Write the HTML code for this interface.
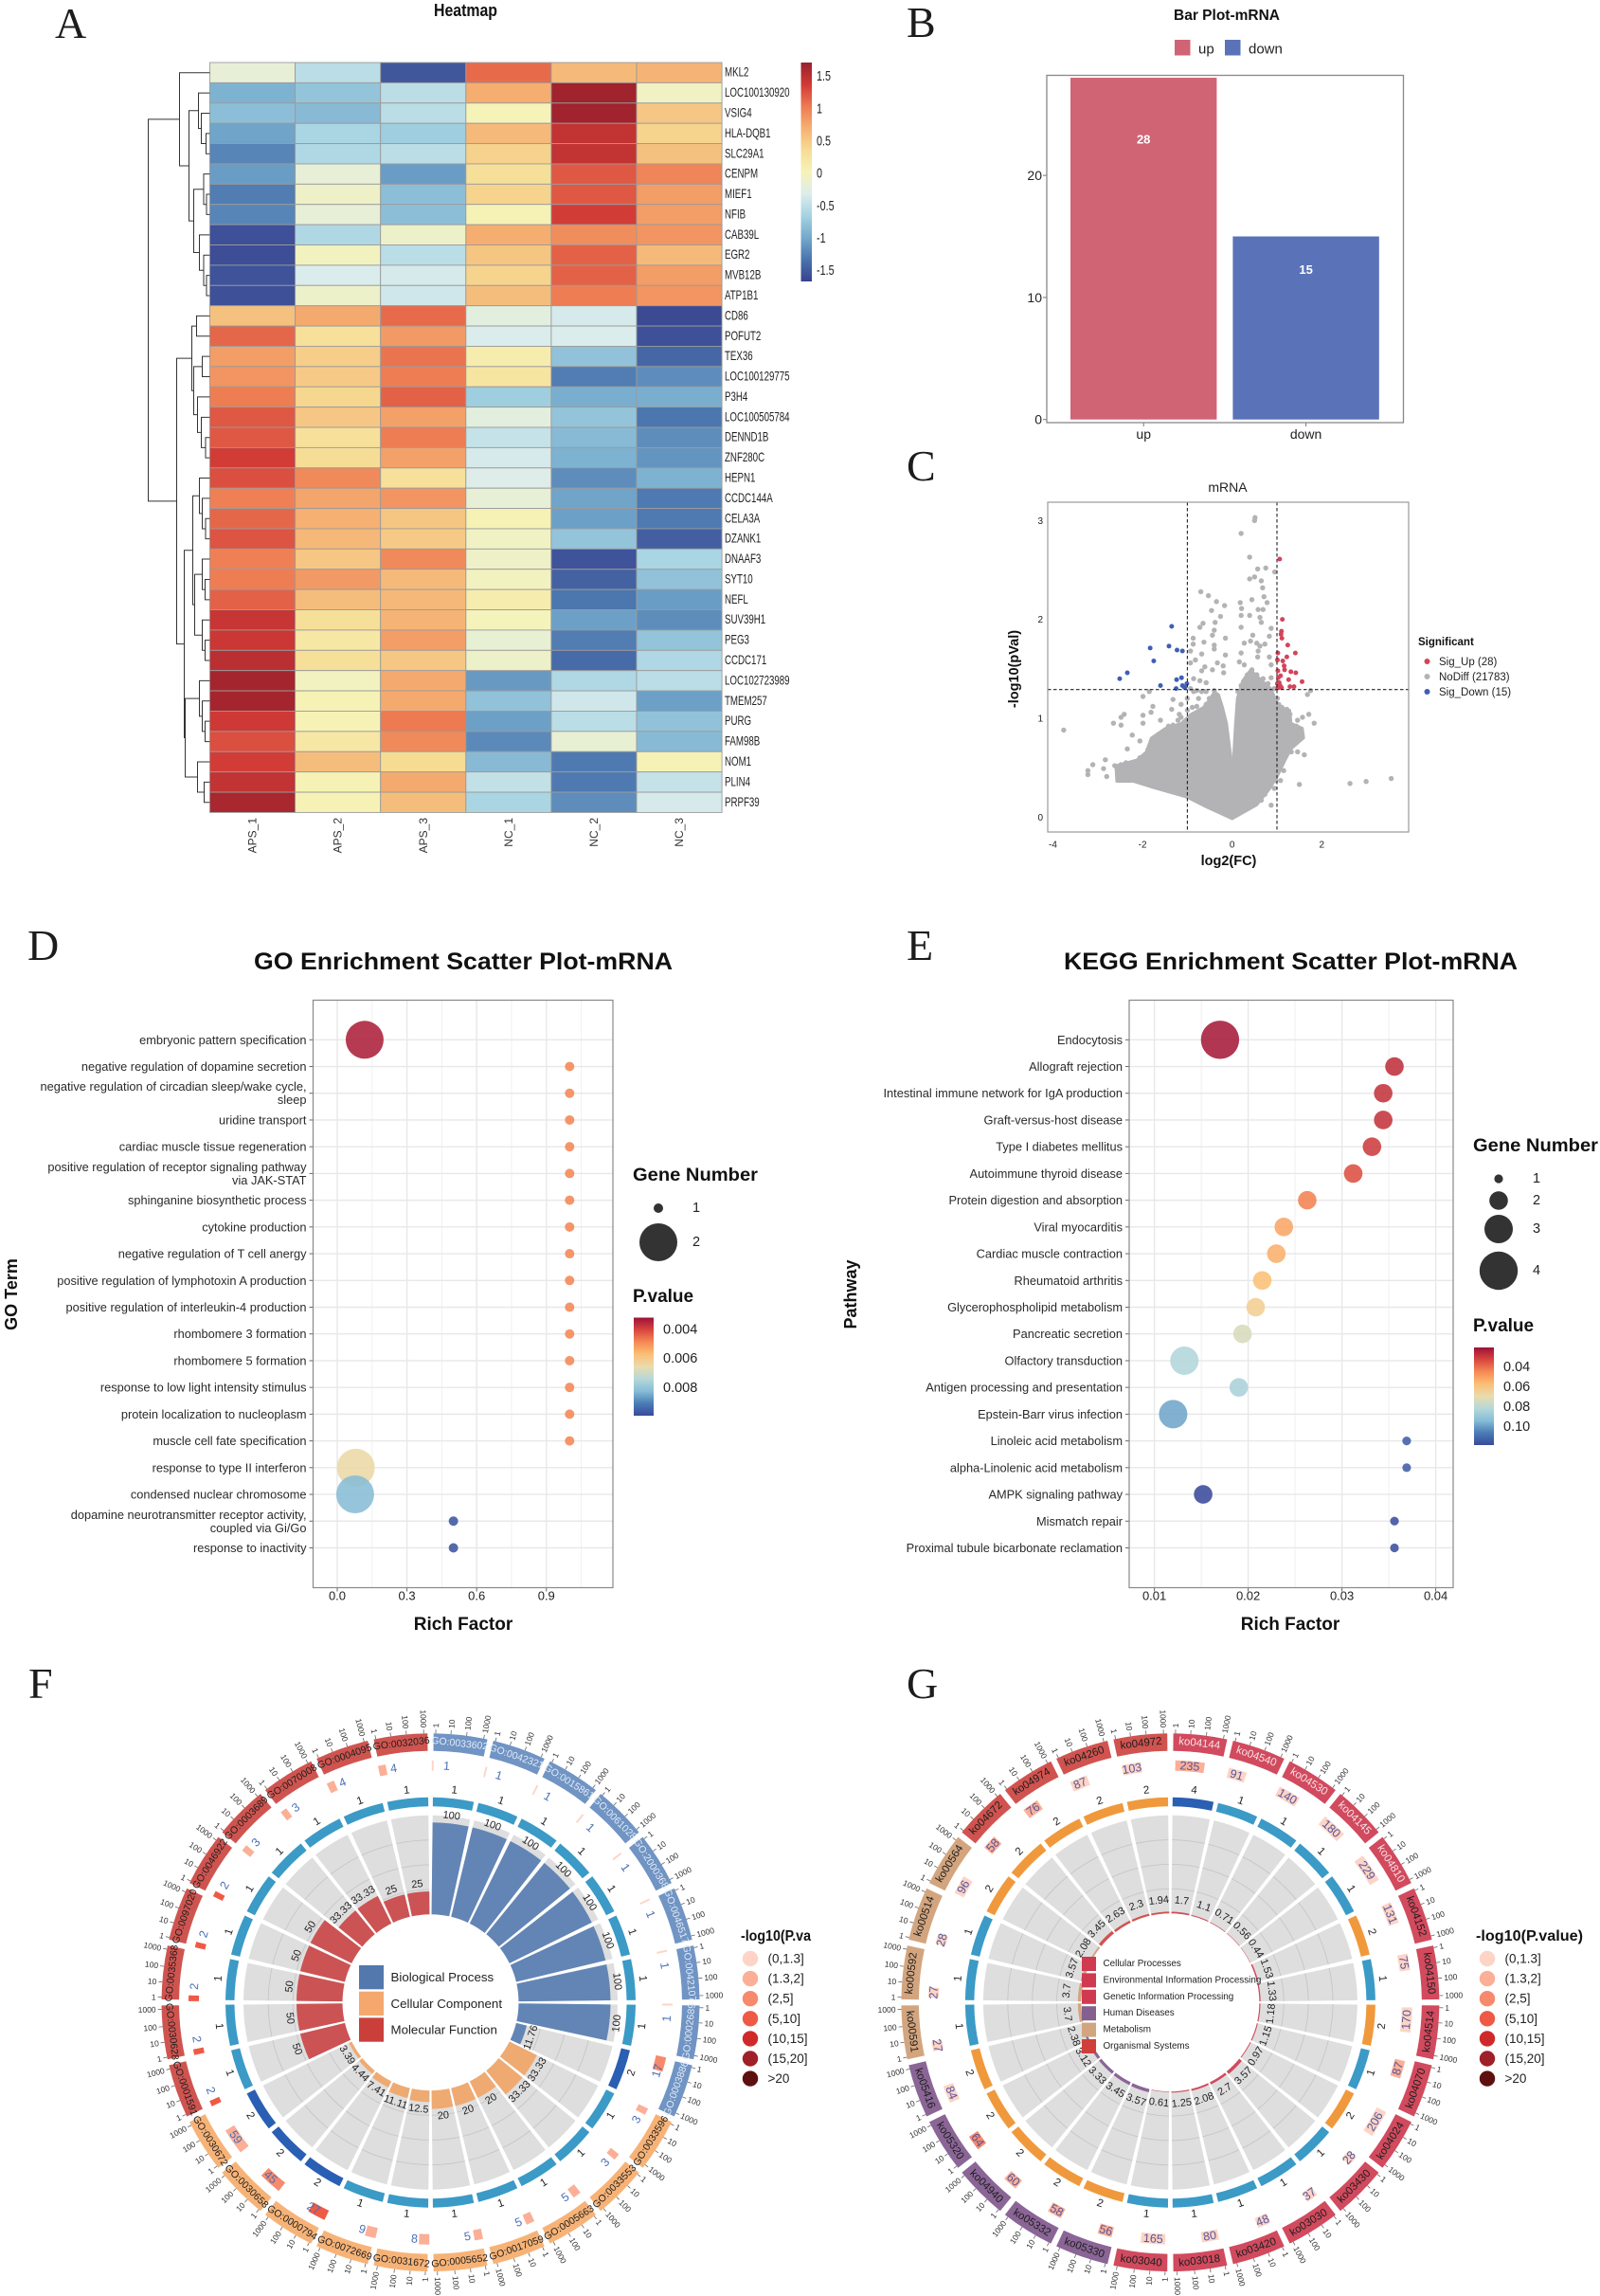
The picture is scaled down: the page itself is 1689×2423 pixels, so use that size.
<!DOCTYPE html>
<html lang="en">
<head>
<meta charset="utf-8">
<title>Transcriptome figure panels A-G</title>
<style>
html,body{margin:0;padding:0;background:#fff;}
#figure{display:block;width:1689px;height:2423px;font-family:"Liberation Sans",sans-serif;fill:#222;filter:blur(0.35px);}
.letter{font-family:"Liberation Serif",serif;font-size:46px;fill:#1c1c1c;}
.ttl{font-weight:bold;fill:#111;}
</style>
</head>
<body>
<svg id="figure" xmlns="http://www.w3.org/2000/svg" width="1689" height="2423" viewBox="0 0 1689 2423">
  <rect x="0" y="0" width="1689" height="2423" fill="#fff"/>
  <text class="letter" x="58" y="40">A</text>
  <text class="letter" x="957" y="39">B</text>
  <text class="letter" x="957" y="507">C</text>
  <text class="letter" x="29" y="1013">D</text>
  <text class="letter" x="957" y="1013">E</text>
  <text class="letter" x="30" y="1792">F</text>
  <text class="letter" x="957" y="1792">G</text>

  <g id="panel-a">
    <text class="ttl" x="458" y="17" font-size="18" textLength="67" lengthAdjust="spacingAndGlyphs">Heatmap</text>
  </g>
  <g id="panel-b">
    <text class="ttl" x="1295" y="21" font-size="15.5" text-anchor="middle">Bar Plot-mRNA</text>
    <rect x="1240" y="42" width="16.5" height="16.5" fill="#d06475"/>
    <text x="1265" y="56.5" font-size="15">up</text>
    <rect x="1293" y="42" width="16.5" height="16.5" fill="#5a72b8"/>
    <text x="1318" y="56.5" font-size="15">down</text>
  </g>
  <g id="panel-c">
    <text x="1296" y="519" font-size="14" text-anchor="middle">mRNA</text>
    <text class="ttl" x="1297" y="913" font-size="14.5" text-anchor="middle">log2(FC)</text>
    <text class="ttl" x="1075" y="706" font-size="14.5" text-anchor="middle" transform="rotate(-90 1075 706)">-log10(pVal)</text>
    <text class="ttl" x="1497" y="681" font-size="11.5">Significant</text>
    <circle cx="1506.5" cy="698" r="3" fill="#d2455a"/>
    <text x="1519" y="702" font-size="11.5">Sig_Up (28)</text>
    <circle cx="1506.5" cy="714" r="3" fill="#b3b3b5"/>
    <text x="1519" y="718" font-size="11.5">NoDiff (21783)</text>
    <circle cx="1506.5" cy="730" r="3" fill="#3f5fb5"/>
    <text x="1519" y="734" font-size="11.5">Sig_Down (15)</text>
  </g>
  <g id="panel-d">
    <text class="ttl" x="268" y="1023" font-size="25" textLength="442" lengthAdjust="spacingAndGlyphs">GO Enrichment Scatter Plot-mRNA</text>
    <text class="ttl" x="489" y="1720" font-size="19" text-anchor="middle">Rich Factor</text>
    <text class="ttl" x="18" y="1366" font-size="18" text-anchor="middle" transform="rotate(-90 18 1366)">GO Term</text>
    <text class="ttl" x="668" y="1246" font-size="19" textLength="132" lengthAdjust="spacingAndGlyphs">Gene Number</text>
    <text class="ttl" x="668" y="1374" font-size="19">P.value</text>
  </g>
  <g id="panel-e">
    <text class="ttl" x="1123" y="1023" font-size="25" textLength="479" lengthAdjust="spacingAndGlyphs">KEGG Enrichment Scatter Plot-mRNA</text>
    <text class="ttl" x="1362" y="1720" font-size="19" text-anchor="middle">Rich Factor</text>
    <text class="ttl" x="904" y="1366" font-size="18" text-anchor="middle" transform="rotate(-90 904 1366)">Pathway</text>
    <text class="ttl" x="1555" y="1215" font-size="19" textLength="132" lengthAdjust="spacingAndGlyphs">Gene Number</text>
    <text class="ttl" x="1555" y="1405" font-size="19">P.value</text>
  </g>
  <g id="panel-f">
    <text class="ttl" x="782" y="2048" font-size="15.5" textLength="74" lengthAdjust="spacingAndGlyphs">-log10(P.va</text>
  </g>
  <g id="panel-g">
    <text class="ttl" x="1558" y="2048" font-size="15.5" textLength="113" lengthAdjust="spacingAndGlyphs">-log10(P.value)</text>
  </g>
</svg>

<script>
/* shared drawing helpers */
const SVG_NS = 'http://www.w3.org/2000/svg';
function mk(parent, tag, attrs, txt) {
  const e = document.createElementNS(SVG_NS, tag);
  for (const k in attrs) e.setAttribute(k, attrs[k]);
  if (txt !== undefined) e.textContent = txt;
  parent.appendChild(e);
  return e;
}
function lab(parent, x, y, str, opts, name) {
  const e = mk(parent, 'text', Object.assign({x: x, y: y, 'dominant-baseline': 'central'}, opts), str);
  
  
  return e;
}
function mixHex(a, b, f) {
  const pa = [1, 3, 5].map(i => parseInt(a.substr(i, 2), 16));
  const pb = [1, 3, 5].map(i => parseInt(b.substr(i, 2), 16));
  return 'rgb(' + pa.map((v, i) => Math.round(v + (pb[i] - v) * f)).join(',') + ')';
}
function rampColor(stops, t) {
  const c = Math.max(0, Math.min(1, t)) * (stops.length - 1);
  const i = Math.min(stops.length - 2, Math.floor(c));
  return mixHex(stops[i], stops[i + 1], c - i);
}
function addGradient(id, stops) {
  const svg = document.getElementById('figure');
  let defs = svg.querySelector('defs');
  if (!defs) defs = mk(svg, 'defs', {});
  const g = mk(defs, 'linearGradient', {id: id, x1: 0, y1: 1, x2: 0, y2: 0});
  stops.forEach((c, i) => mk(g, 'stop', {offset: i / (stops.length - 1), 'stop-color': c}));
}
</script>

<script>
/* Panel A: heatmap */
const heatCols = ['APS_1','APS_2','APS_3','NC_1','NC_2','NC_3'];
const heatRows = ['MKL2','LOC100130920','VSIG4','HLA-DQB1','SLC29A1','CENPM','MIEF1','NFIB','CAB39L','EGR2','MVB12B','ATP1B1','CD86','POFUT2','TEX36','LOC100129775','P3H4','LOC100505784','DENND1B','ZNF280C','HEPN1','CCDC144A','CELA3A','DZANK1','DNAAF3','SYT10','NEFL','SUV39H1','PEG3','CCDC171','LOC102723989','TMEM257','PURG','FAM98B','NOM1','PLIN4','PRPF39'];
const heatValues = [
[-0.2,-0.55,-1.55,1.1,0.6,0.65],[-0.95,-0.8,-0.55,0.7,1.65,-0.08],[-0.85,-0.88,-0.55,0.0,1.65,0.5],[-1.05,-0.65,-0.72,0.6,1.45,0.4],
[-1.25,-0.62,-0.55,0.42,1.45,0.55],[-1.1,-0.2,-1.1,0.3,1.2,0.95],[-1.3,-0.1,-0.85,0.4,1.2,0.8],[-1.25,-0.2,-0.85,0.02,1.35,0.8],
[-1.6,-0.62,-0.12,0.7,0.9,0.85],[-1.62,-0.05,-0.55,0.52,1.15,0.6],[-1.58,-0.35,-0.38,0.4,1.15,0.8],[-1.6,-0.12,-0.42,0.58,1.0,0.85],
[0.55,0.72,1.1,-0.25,-0.38,-1.65],[1.12,0.28,0.82,-0.35,-0.35,-1.6],[0.8,0.45,1.05,0.1,-0.82,-1.45],[0.85,0.48,1.0,0.22,-1.3,-1.2],
[1.0,0.38,1.15,-0.72,-0.98,-0.98],[1.2,0.5,0.78,-0.25,-0.8,-1.35],[1.2,0.28,1.0,-0.48,-0.88,-1.2],[1.35,0.32,0.78,-0.38,-0.95,-1.15],
[1.25,0.92,0.28,-0.32,-1.2,-0.95],[0.98,0.75,0.85,-0.2,-1.05,-1.32],[1.12,0.68,0.52,0.02,-1.08,-1.32],[1.22,0.62,0.48,-0.08,-0.8,-1.5],
[0.98,0.5,0.92,-0.1,-1.58,-0.65],[1.0,0.82,0.6,-0.05,-1.48,-0.82],[1.15,0.58,0.62,0.1,-1.35,-1.1],[1.42,0.3,0.65,-0.02,-1.08,-1.2],
[1.4,0.18,0.8,-0.18,-1.3,-0.8],[1.5,0.3,0.5,-0.12,-1.42,-0.62],[1.62,-0.05,0.72,-1.12,-0.62,-0.55],[1.62,0.02,0.72,-0.82,-0.42,-1.08],
[1.38,0.02,1.02,-1.08,-0.55,-0.82],[1.25,0.18,0.92,-1.22,-0.18,-0.88],[1.35,0.58,0.35,-0.88,-1.32,0.02],[1.45,0.02,0.72,-0.5,-1.32,-0.48],[1.6,0.02,0.58,-0.65,-1.2,-0.38]
];
const heatLegendTicks = [1.5,1,0.5,0,-0.5,-1,-1.5];
/* dendrogram merges: [height, childA, childB], leaves are row indices */
const heatTree = [65,
  [32, 0, [22, [12, 1, [9, 2, [4, 3, 4]]], [17, [6.5, 5, [3.5, 6, 7]], [11, 8, [6.5, 9, [3.5, 10, 11]]]]]],
  [35,
    [19, [14, 12, 13], [17, [8, 14, 15], [13, 16, [9, 17, [4.5, 18, 19]]]]],
    [27,
      [18, [11, 20, [8, 21, [4.5, 22, 23]]], [16, [8, 24, [5, 25, 26]], [8, 27, [5, 28, 29]]]],
      [26, [11, 30, [8, 31, [5, 32, 33]]], [13, 34, [6, 35, 36]]]
    ]
  ]
];
(function () {
  const g = document.getElementById('panel-a');
  const left = 221.5, top = 66, cw = 90.1, rh = 21.39;
  const stops = ['#39418f','#4a74ad','#74a9cc','#a5d3e2','#dcedec','#f6f3b8','#f6dc94','#f5b072','#ee7a52','#d13a36','#981f2c'];
  const vMin = -1.7, vMax = 1.7;
  const colX = i => left + cw * i;
  const rowY = i => top + rh * i;
  const valColor = v => rampColor(stops, (v - vMin) / (vMax - vMin));
  heatValues.forEach((row, r) => row.forEach((v, c) => {
    const cell = mk(g, 'rect', {x: colX(c), y: rowY(r), width: cw, height: rh, fill: valColor(v), stroke: '#9b9b9b', 'stroke-width': 0.9});
    
    
  }));
  heatRows.forEach((name, r) => {
    const y = rowY(r) + rh / 2;
    const t = mk(g, 'text', {'dominant-baseline': 'central', 'font-size': 13.5, transform: 'translate(765 ' + y + ') scale(0.72 1)'}, name);
    
    
  });
  heatCols.forEach((name, c) => {
    const x = colX(c) + cw / 2;
    const t = mk(g, 'text', {'dominant-baseline': 'central', 'font-size': 12, 'text-anchor': 'end', transform: 'translate(' + x + ' 863) rotate(-90)', fill: '#333'}, name);
    
    
  });
  /* dendrogram */
  const hx = h => left - h;
  function drawNode(n) {
    if (typeof n === 'number') return {x: left, y: rowY(n) + rh / 2};
    const a = drawNode(n[1]), b = drawNode(n[2]);
    const x = hx(n[0]);
    const p = mk(g, 'path', {d: 'M' + a.x + ' ' + a.y + 'H' + x + 'V' + b.y + 'H' + b.x, fill: 'none', stroke: '#333', 'stroke-width': 1});
    
    
    return {x: x, y: (a.y + b.y) / 2};
  }
  drawNode(heatTree);
  /* colour bar */
  addGradient('heat-grad', stops);
  const bar = mk(g, 'rect', {x: 845.5, y: 66, width: 11.5, height: 231, fill: 'url(#heat-grad)'});
  
  
  const legendY = v => 182.5 - v * 68.3;
  heatLegendTicks.forEach(v => {
    const t = mk(g, 'text', {'dominant-baseline': 'central', 'font-size': 15, transform: 'translate(862 ' + legendY(v) + ') scale(0.72 1)'}, String(v));
    
    
  });
})();
</script>

<script>
/* Panel B: bar plot */
const barCategories = ['up','down'];
const barValues = [28,15];
const barTicks = [0,10,20];
(function () {
  const g = document.getElementById('panel-b');
  const y0 = 442.7, perUnit = 12.88;
  const yS = v => y0 - v * perUnit;
  const bandX = i => 1130 + i * 171.4;
  const bandW = 154.4;
  const colors = ['#d06475','#5a72b8'];
  barValues.forEach((v, i) => {
    const r = mk(g, 'rect', {x: bandX(i), y: yS(v), width: bandW, height: y0 - yS(v), fill: colors[i]});
    
    
    lab(g, bandX(i) + bandW / 2, yS(v * 0.82), String(v), {'font-size': 13, 'font-weight': 'bold', fill: '#fff', 'text-anchor': 'middle'}, 'bar-value-label');
    lab(g, bandX(i) + bandW / 2, 458, barCategories[i], {'font-size': 14, 'text-anchor': 'middle'}, 'bar-x-tick-label');
    const tk = mk(g, 'line', {x1: bandX(i) + bandW / 2, x2: bandX(i) + bandW / 2, y1: 446, y2: 450, stroke: '#777'});
    
    
  });
  barTicks.forEach(v => {
    lab(g, 1100, yS(v), String(v), {'font-size': 14, 'text-anchor': 'end'}, 'bar-y-tick-label');
    const tk = mk(g, 'line', {x1: 1101, x2: 1105, y1: yS(v), y2: yS(v), stroke: '#777'});
    
    
  });
  const box = mk(g, 'rect', {x: 1105, y: 79.5, width: 376.5, height: 366.5, fill: 'none', stroke: '#888', 'stroke-width': 1.3});
  
  
})();
</script>

<script>
/* Panel C: volcano plot. The dense gene cloud is an outline; isolated genes are listed individually. */
const cloudOutlineX = [0,-0.58,-1.01,-1.71,-2.21,-2.58,-2.6,-2.13,-1.92,-1.81,-1.49,-1.14,-0.93,-0.65,-0.5,-0.4,-0.3,-0.21,-0.12,-0.03,0,0.03,0.07,0.11,0.23,0.41,0.62,0.87,1.04,1.29,1.32,1.57,1.6,1.32,1.18,1.01,0.83,0.55,0];
const cloudOutlineY = [-0.01,0.11,0.21,0.30,0.37,0.37,0.53,0.59,0.67,0.81,0.91,0.96,1.05,1.12,1.2,1.28,1.25,1.12,0.96,0.64,0.32,0.64,0.95,1.21,1.39,1.5,1.41,1.31,1.13,1.09,0.96,0.91,0.81,0.70,0.58,0.42,0.29,0.13,-0.01];
const nodiffX = [0.51,0.50,0.20,0.39,0.57,0.75,0.95,0.39,0.50,0.65,0.68,0.71,0.78,0.44,0.18,0.21,-0.17,-0.35,-0.53,-0.70,-0.46,-0.26,-0.38,-0.65,-0.72,0.20,0.20,0.39,0.58,0.69,0.62,0.65,0.87,0.83,0.46,0.41,0.27,0.55,0.62,0.73,0.58,0.57,-0.40,-0.40,-0.15,-0.40,-0.44,-0.63,-0.87,-0.87,-0.68,-0.93,-0.82,-0.93,-0.61,-0.33,-0.15,-0.20,-0.19,-0.44,-0.68,-0.86,-0.72,-0.58,0.20,0.16,0.27,0.87,0.83,0.69,0.87,1.75,1.68,-1.99,-1.85,-1.77,-1.81,-1.99,-2.41,-2.48,-2.65,-2.48,-1.99,-1.60,-1.32,-1.14,-1.35,-1.18,-3.76,-2.23,-2.06,-2.34,-2.83,-3.11,-3.22,-3.22,-2.87,-2.80,1.71,1.57,1.83,1.61,1.50,0.94,0.87,2.63,2.99,3.55,1.46,
-2.55,-2.62,-2.48,-2.37,-2.27,-2.13,-2.06,-1.95,-1.88,-1.81,-1.70,-1.60,-1.53,-1.42,-1.32,-1.21,-1.14,-1.0,-0.89,-0.79,-0.68,-0.58,-0.51,-0.40,-0.38,-0.33,-0.44,-0.75,-1.0,-0.86,-0.68,-0.58,-0.93,-0.79,
1.11,1.22,1.29,1.18,1.32,1.43,1.5,1.54,1.39,1.25,1.32,1.46,1.18,1.15,1.08,0.97,0.73,0.65,0.13,0.20,0.34,0.44,0.55,0.65,0.80,0.94,1.01,1.04,1.18,1.25];
const nodiffY = [3.04,3.01,2.88,2.64,2.52,2.53,2.49,2.42,2.44,2.40,2.33,2.24,2.18,2.21,2.18,2.12,2.15,2.19,2.25,2.29,2.10,2.04,1.98,1.97,1.93,1.93,2.05,2.05,2.11,2.11,2.03,1.98,1.92,1.84,1.85,1.79,1.77,1.77,1.74,1.76,1.69,1.63,1.75,1.71,1.82,1.90,1.85,1.78,1.82,1.76,1.66,1.69,1.60,1.57,1.53,1.57,1.65,1.54,1.47,1.50,1.49,1.41,1.39,1.37,1.67,1.58,1.55,1.55,1.63,1.41,1.42,1.29,1.25,1.23,1.28,1.13,1.07,1.04,1.05,1.02,0.96,0.94,0.96,0.99,1.20,1.15,1.10,1.05,0.89,0.84,0.78,0.70,0.59,0.54,0.48,0.44,0.50,0.42,1.05,1.02,0.96,0.64,0.34,0.30,0.13,0.35,0.37,0.40,0.99,
0.45,0.53,0.54,0.56,0.51,0.54,0.61,0.58,0.69,0.73,0.80,0.81,0.73,0.93,0.94,0.99,1.02,1.09,1.12,1.13,1.05,1.15,1.21,1.29,1.25,1.20,1.12,1.21,1.21,1.28,1.28,1.28,1.31,1.29,
1.12,1.10,1.05,0.99,0.91,0.93,0.88,0.81,0.80,0.73,0.67,0.67,0.61,0.48,0.38,0.38,0.24,0.18,1.28,1.34,1.45,1.50,1.45,1.37,1.36,1.31,1.21,1.15,0.89,0.81];
const sigUpX = [1.06,1.12,1.10,1.09,1.11,1.02,1.24,1.41,1.01,1.13,1.22,1.17,1.02,1.31,1.42,1.03,1.26,1.56,1.01,1.05,1.07,1.29,1.38,1.02,1.04,1.10,1.16,1.08];
const sigUpY = [2.62,2.01,1.89,1.86,1.82,1.67,1.75,1.67,1.60,1.59,1.63,1.50,1.49,1.48,1.47,1.42,1.40,1.38,1.36,1.37,1.34,1.33,1.33,1.32,1.32,1.32,1.54,1.44];
const sigDownX = [-1.35,-1.83,-1.41,-1.23,-1.11,-1.75,-2.34,-2.51,-1.6,-1.24,-1.13,-1.25,-1.11,-1.01,-1.06];
const sigDownY = [1.94,1.72,1.74,1.70,1.69,1.59,1.47,1.41,1.34,1.40,1.42,1.31,1.34,1.36,1.32];
const volcanoXTicks = [-4,-2,0,2];
const volcanoYTicks = [0,1,2,3];
const volcanoVLines = [-1,1];
const volcanoHLine = 1.3;
(function () {
  const g = document.getElementById('panel-c');
  const xS = v => 1300.7 + v * 47.3;
  const yS = v => 863.3 - v * 104.3;
  const box = {l: 1106, r: 1487, t: 530, b: 878};
  const pts = cloudOutlineX.map((x, i) => xS(x).toFixed(1) + ',' + yS(cloudOutlineY[i]).toFixed(1)).join(' ');
  const cloud = mk(g, 'polygon', {points: pts, fill: '#b3b3b5', stroke: '#b3b3b5', 'stroke-width': 2.5, 'stroke-linejoin': 'round'});
  
  
  nodiffX.forEach((x, i) => {
    const c = mk(g, 'circle', {cx: xS(x), cy: yS(nodiffY[i]), r: 2.7, fill: '#b3b3b5'});
    
    
  });
  sigUpX.forEach((x, i) => {
    const c = mk(g, 'circle', {cx: xS(x), cy: yS(sigUpY[i]), r: 2.5, fill: '#d2455a'});
    
    
  });
  sigDownX.forEach((x, i) => {
    const c = mk(g, 'circle', {cx: xS(x), cy: yS(sigDownY[i]), r: 2.5, fill: '#3f5fb5'});
    
    
  });
  volcanoVLines.forEach(v => {
    const l = mk(g, 'line', {x1: xS(v), x2: xS(v), y1: box.t, y2: box.b, stroke: '#222', 'stroke-width': 1.1, 'stroke-dasharray': '3.5 2.5'});
    
    
  });
  const hl = mk(g, 'line', {x1: box.l, x2: box.r, y1: yS(volcanoHLine), y2: yS(volcanoHLine), stroke: '#222', 'stroke-width': 1.1, 'stroke-dasharray': '3.5 2.5'});
  
  
  volcanoXTicks.forEach(v => lab(g, xS(v), 892, String(v), {'font-size': 10, 'text-anchor': 'middle'}, 'volcano-x-tick-label'));
  volcanoYTicks.forEach(v => lab(g, 1101, yS(v), String(v), {'font-size': 10, 'text-anchor': 'end'}, 'volcano-y-tick-label'));
  const fr = mk(g, 'rect', {x: box.l, y: box.t, width: box.r - box.l, height: box.b - box.t, fill: 'none', stroke: '#999', 'stroke-width': 1.2});
  
  
})();
</script>

<script>
/* Shared enrichment scatter renderer for panels D and E */
const scatterRamp = ['#3a4a9c','#4a7cb5','#86bdd6','#b5d8d9','#e9dcae','#fbbf75','#f68a55','#d8463e','#9c1238'];
function drawEnrichment(cfg) {
  const g = document.getElementById(cfg.group);
  const rowY = i => 1097.3 + i * 28.22;
  const b = cfg.box;
  const fr0 = mk(g, 'rect', {x: b.l, y: b.t, width: b.r - b.l, height: b.b - b.t, fill: '#fff'});
  
  
  cfg.minor.forEach(v => {
    const l = mk(g, 'line', {x1: cfg.xS(v), x2: cfg.xS(v), y1: b.t, y2: b.b, stroke: '#f1f1f1', 'stroke-width': 1});
    
    
  });
  cfg.ticks.forEach(v => {
    const l = mk(g, 'line', {x1: cfg.xS(v), x2: cfg.xS(v), y1: b.t, y2: b.b, stroke: '#e8e8e8', 'stroke-width': 1.4});
    
    
    const tk = mk(g, 'line', {x1: cfg.xS(v), x2: cfg.xS(v), y1: b.b, y2: b.b + 4, stroke: '#666'});
    
    
    lab(g, cfg.xS(v), 1684, cfg.tickFmt(v), {'font-size': 13, 'text-anchor': 'middle'}, 'x-tick-label');
  });
  cfg.terms.forEach((term, i) => {
    const y = rowY(i);
    const l = mk(g, 'line', {x1: b.l, x2: b.r, y1: y, y2: y, stroke: '#e8e8e8', 'stroke-width': 1.4});
    
    
    const tk = mk(g, 'line', {x1: b.l - 4, x2: b.l, y1: y, y2: y, stroke: '#666'});
    
    
    const parts = term.split('\n');
    parts.forEach((p, k) => {
      const off = parts.length > 1 ? (k === 0 ? -7 : 7) : 0;
      lab(g, b.l - 7, y + off, p, {'font-size': 12.8, 'text-anchor': 'end', fill: '#2a2a2a'}, 'term-label');
    });
  });
  const pColor = p => rampColor(scatterRamp, (cfg.pMax - p) / (cfg.pMax - cfg.pMin));
  cfg.rich.forEach((v, i) => {
    const c = mk(g, 'circle', {cx: cfg.xS(v), cy: rowY(i), r: cfg.rS(cfg.genes[i]), fill: pColor(cfg.p[i]), opacity: 0.88});
    
    
  });
  const fr = mk(g, 'rect', {x: b.l, y: b.t, width: b.r - b.l, height: b.b - b.t, fill: 'none', stroke: '#888', 'stroke-width': 1.2});
  
  
  /* size legend */
  cfg.sizeLegend.forEach((n, i) => {
    const c = mk(g, 'circle', {cx: cfg.sizeX, cy: cfg.sizeY[i], r: cfg.rS(n), fill: '#333'});
    
    
    lab(g, cfg.sizeLabelX, cfg.sizeY[i], String(n), {'font-size': 14.5, 'text-anchor': 'middle'}, 'size-legend-label');
  });
  /* colour legend */
  const cb = cfg.bar;
  const gid = cfg.group + '-grad';
  addGradient(gid, scatterRamp);
  const r = mk(g, 'rect', {x: cb.x, y: cb.t, width: 21, height: cb.b - cb.t, fill: 'url(#' + gid + ')'});
  
  
  const barY = p => cb.t + (p - cfg.pMin) / (cfg.pMax - cfg.pMin) * (cb.b - cb.t);
  cfg.pTicks.forEach(p => {
    lab(g, cb.x + 31, barY(p), p.toFixed(cfg.pDigits), {'font-size': 14.5}, 'p-value-tick-label');
  });
}
</script>

<script>
/* Panel D: GO enrichment scatter */
const goTerms = ['embryonic pattern specification','negative regulation of dopamine secretion','negative regulation of circadian sleep/wake cycle,\nsleep','uridine transport','cardiac muscle tissue regeneration','positive regulation of receptor signaling pathway\nvia JAK-STAT','sphinganine biosynthetic process','cytokine production','negative regulation of T cell anergy','positive regulation of lymphotoxin A production','positive regulation of interleukin-4 production','rhombomere 3 formation','rhombomere 5 formation','response to low light intensity stimulus','protein localization to nucleoplasm','muscle cell fate specification','response to type II interferon','condensed nuclear chromosome','dopamine neurotransmitter receptor activity,\ncoupled via Gi/Go','response to inactivity'];
const goRich = [0.118,1,1,1,1,1,1,1,1,1,1,1,1,1,1,1,0.08,0.077,0.5,0.5];
const goGenes = [2,1,1,1,1,1,1,1,1,1,1,1,1,1,1,1,2,2,1,1];
const goP = [0.0034,0.0048,0.0048,0.0048,0.0048,0.0048,0.0048,0.0048,0.0048,0.0048,0.0048,0.0048,0.0048,0.0048,0.0048,0.0048,0.0064,0.0082,0.0097,0.0097];
const goTicks = [0,0.3,0.6,0.9];
const goMinorTicks = [0.15,0.45,0.75,1.05];
const goPTicks = [0.004,0.006,0.008];
const goSizeLegend = [1,2];
drawEnrichment({
  group: 'panel-d', box: {l: 330.5, r: 647, t: 1055.5, b: 1675.5},
  terms: goTerms, rich: goRich, genes: goGenes, p: goP, ticks: goTicks, minor: goMinorTicks,
  xS: v => 356 + v * 245.3, rS: n => 5 + 15 * (n - 1), tickFmt: v => v.toFixed(1),
  pMin: 0.00317, pMax: 0.00989, pTicks: goPTicks, pDigits: 3, bar: {x: 669, t: 1390.5, b: 1494},
  sizeLegend: goSizeLegend, sizeX: 695, sizeY: [1275, 1311], sizeLabelX: 735
});
</script>

<script>
/* Panel E: KEGG enrichment scatter */
const keggTerms = ['Endocytosis','Allograft rejection','Intestinal immune network for IgA production','Graft-versus-host disease','Type I diabetes mellitus','Autoimmune thyroid disease','Protein digestion and absorption','Viral myocarditis','Cardiac muscle contraction','Rheumatoid arthritis','Glycerophospholipid metabolism','Pancreatic secretion','Olfactory transduction','Antigen processing and presentation','Epstein-Barr virus infection','Linoleic acid metabolism','alpha-Linolenic acid metabolism','AMPK signaling pathway','Mismatch repair','Proximal tubule bicarbonate reclamation'];
const keggRich = [0.0170,0.0356,0.0344,0.0344,0.0332,0.0312,0.0263,0.0238,0.0230,0.0215,0.0208,0.0194,0.0132,0.0190,0.0120,0.0369,0.0369,0.0152,0.0356,0.0356];
const keggGenes = [4,2,2,2,2,2,2,2,2,2,2,2,3,2,3,1,1,2,1,1];
const keggP = [0.022,0.027,0.028,0.028,0.030,0.034,0.043,0.051,0.053,0.057,0.063,0.073,0.082,0.084,0.098,0.113,0.113,0.118,0.117,0.117];
const keggTicks = [0.01,0.02,0.03,0.04];
const keggMinorTicks = [0.015,0.025,0.035];
const keggPTicks = [0.04,0.06,0.08,0.10];
const keggSizeLegend = [1,2,3,4];
drawEnrichment({
  group: 'panel-e', box: {l: 1192, r: 1534, t: 1055.5, b: 1675.5},
  terms: keggTerms, rich: keggRich, genes: keggGenes, p: keggP, ticks: keggTicks, minor: keggMinorTicks,
  xS: v => 1218.6 + (v - 0.01) * 9900, rS: n => 4.6 + 5.2 * (n - 1), tickFmt: v => v.toFixed(2),
  pMin: 0.02, pMax: 0.118, pTicks: keggPTicks, pDigits: 2, bar: {x: 1556, t: 1422, b: 1525},
  sizeLegend: keggSizeLegend, sizeX: 1582, sizeY: [1244, 1267, 1297, 1341], sizeLabelX: 1622
});
</script>

<script>
/* Shared circular enrichment renderer for panels F and G */
const pLegendLabels = ['(0,1.3]','(1.3,2]','(2,5]','(5,10]','(10,15]','(15,20]','>20'];
const pLegendColors = ['#fdd4c5','#fbaf97','#f78a6c','#ee5a46','#cf2a2a','#9f2028','#5e1010'];
function drawCircos(cfg) {
  const g = document.getElementById(cfg.group);
  const cx = cfg.cx, cy = 2113.2, n = cfg.ids.length, step = 360 / n;
  const angle = i => i * step;
  const pol = (r, a) => {
    const t = a * Math.PI / 180;
    return [cx + r * Math.sin(t), cy - r * Math.cos(t)];
  };
  const sector = (r0, r1, a0, a1) => {
    const p = [pol(r1, a0), pol(r1, a1), pol(r0, a1), pol(r0, a0)].map(q => q.map(v => v.toFixed(2)).join(' '));
    return 'M' + p[0] + 'A' + r1 + ' ' + r1 + ' 0 0 1 ' + p[1] + 'L' + p[2] + 'A' + r0 + ' ' + r0 + ' 0 0 0 ' + p[3] + 'Z';
  };
  const tangent = a => (a >= 90 && a < 270) ? a + 180 : a;
  const placed = (r, a, rot, str, opts, name) => {
    const q = pol(r, a);
    return lab(g, q[0], q[1], str, Object.assign({'text-anchor': 'middle', transform: 'rotate(' + rot + ' ' + q[0] + ' ' + q[1] + ')'}, opts), name);
  };
  const rBar = v => cfg.r0 + v * 0.97;
  const tickNames = ['1', '10', '100', '1000'];
  const tickFrac = [0.04, 0.32, 0.61, 0.93];
  for (let i = 0; i < n; i++) {
    const a0 = angle(i), a1 = angle(i + 1), mid = (a0 + a1) / 2;
    const gap = 0.65;
    /* background wedge */
    const bg = mk(g, 'path', {d: sector(cfg.r0, 197.5, a0 + gap, a1 - gap), fill: '#dedede'});
    
    
    [0.25, 0.5, 0.75].forEach(f => {
      const r = cfg.r0 + (197.5 - cfg.r0) * f;
      const p0 = pol(r, a0 + gap), p1 = pol(r, a1 - gap);
      const arc = mk(g, 'path', {d: 'M' + p0.join(' ') + 'A' + r + ' ' + r + ' 0 0 1 ' + p1.join(' '), fill: 'none', stroke: '#c6c6c6', 'stroke-width': 0.9});
      
      
    });
    /* enrichment bar */
    const bar = mk(g, 'path', {d: sector(cfg.r0, rBar(cfg.pct[i]), a0 + gap, a1 - gap), fill: cfg.barColor(i)});
    
    
    placed(rBar(cfg.pct[i]) + cfg.pctOffset, mid, tangent(mid), String(cfg.pct[i]), {'font-size': 11, fill: '#222'}, 'enrichment-percent-label');
    /* term gene ring */
    const ring = mk(g, 'path', {d: sector(207, 216.5, a0 + gap, a1 - gap), fill: cfg.ringColor(cfg.terms[i])});
    
    
    placed(225, mid, tangent(mid), String(cfg.terms[i]), {'font-size': 11.5, fill: '#222'}, 'gene-count-label');
    /* background gene bar */
    const w = cfg.widthOf(cfg.counts[i]);
    const wDeg = w / 250 * 180 / Math.PI;
    const start = a0 + cfg.barStart;
    const chip = mk(g, 'path', {d: sector(244.5, 255.5, start, start + wDeg), fill: pLegendColors[cfg.pClass[i]]});
    
    
    const ta = cfg.labelCentered ? start + wDeg / 2 : start + 3.6;
    placed(250, ta, tangent(ta), String(cfg.counts[i]), {'font-size': 12.5, fill: cfg.countColor}, 'background-count-label');
    /* outer id band */
    const band = mk(g, 'path', {d: sector(265.5, 284, a0 + gap, a1 - gap), fill: cfg.bandColor(i)});
    
    
    placed(274.8, mid, tangent(mid), cfg.ids[i], {'font-size': cfg.idFont, fill: cfg.idColor(i)}, 'term-id-label');
    /* log scale ticks */
    tickNames.forEach((lbl, k) => {
      const a = a0 + gap + (a1 - a0 - 2 * gap) * tickFrac[k];
      const p0 = pol(284, a), p1 = pol(288, a), p2 = pol(290, a);
      const tk = mk(g, 'line', {x1: p0[0], y1: p0[1], x2: p1[0], y2: p1[1], stroke: '#666', 'stroke-width': 0.8});
      
      
      const right = a < 180;
      lab(g, p2[0], p2[1], lbl, {'font-size': 8.5, fill: '#333', 'text-anchor': right ? 'start' : 'end', transform: 'rotate(' + (right ? a - 90 : a + 90) + ' ' + p2[0] + ' ' + p2[1] + ')'}, 'scale-tick-label');
    });
  }
  /* centre legend */
  cfg.legend.forEach((item, i) => {
    const y = cfg.legendTop + i * cfg.legendStep;
    const s = mk(g, 'rect', {x: cfg.legendX, y: y, width: cfg.legendW, height: cfg.legendStep - 2.4, fill: item[1]});
    
    
    lab(g, cfg.legendX + cfg.legendW + 7.5, y + (cfg.legendStep - 2.4) / 2, item[0], {'font-size': cfg.legendFont, fill: '#222'}, 'category-legend-label');
  });
  /* p-value legend */
  pLegendLabels.forEach((lbl, i) => {
    const y = 2067 + i * 21.1;
    const c = mk(g, 'circle', {cx: cfg.pLegendX, cy: y, r: 8.2, fill: pLegendColors[i]});
    
    
    lab(g, cfg.pLegendX + 18.5, y, lbl, {'font-size': 13.5}, 'p-value-legend-label');
  });
}
</script>

<script>
/* Panel F: GO circular plot */
const goCircleIds = ['GO:0033602','GO:0042321','GO:0015861','GO:0061028','GO:2000368','GO:0046517','GO:0042107','GO:0002689','GO:0003886','GO:0033596','GO:0033553','GO:0005663','GO:0017059','GO:0005652','GO:0031672','GO:0072669','GO:0000794','GO:0030658','GO:0030672','GO:0001591','GO:0030628','GO:0035368','GO:0097020','GO:0046922','GO:0003689','GO:0070008','GO:0004095','GO:0032036'];
const goCirclePct = [100,100,100,100,100,100,100,100,11.76,33.33,33.33,20,20,20,12.5,11.11,7.41,4.44,3.39,50,50,50,50,50,33.33,33.33,25,25];
const goCircleTerms = [1,1,1,1,1,1,1,1,2,1,1,1,1,1,1,1,2,2,2,1,1,1,1,1,1,1,1,1];
const goCircleCounts = [1,1,1,1,1,1,1,1,17,3,3,5,5,5,8,9,27,45,59,2,2,2,2,2,3,3,4,4];
const goCirclePClass = [0,0,0,0,0,0,0,0,2,1,1,1,1,1,1,1,3,2,1,3,3,3,3,3,1,1,1,1];
const goCircleLegend = [['Biological Process','#5278ad'],['Cellular Component','#f4a86e'],['Molecular Function','#ca3f3a']];
const goGroupStarts = [0,9,19];
drawCircos({
  group: 'panel-f', cx: 454.5, r0: 93, pctOffset: 8,
  ids: goCircleIds, pct: goCirclePct, terms: goCircleTerms, counts: goCircleCounts, pClass: goCirclePClass,
  barColor: i => i < goGroupStarts[1] ? '#6285b5' : (i < goGroupStarts[2] ? '#efaa72' : '#cc5354'),
  bandColor: i => i < goGroupStarts[1] ? '#7094c4' : (i < goGroupStarts[2] ? '#f7b377' : '#cf5450'),
  idColor: i => i < goGroupStarts[1] ? '#e4ebf5' : '#1e1e1e',
  ringColor: v => v >= 2 ? '#2a5fb3' : '#3b9ac6',
  widthOf: v => 1.2 + 3.4 * Math.sqrt(v) * (v > 1 ? 1 : 0.2),
  barStart: 0.3, labelCentered: false, countColor: '#4a6fb5', idFont: 10.5,
  legend: goCircleLegend, legendX: 379, legendW: 26, legendTop: 2074, legendStep: 27.7, legendFont: 13.3,
  pLegendX: 792
});
</script>

<script>
/* Panel G: KEGG circular plot */
const keggCircleIds = ['ko04144','ko04540','ko04530','ko04145','ko04810','ko04152','ko04150','ko04514','ko04070','ko04024','ko03430','ko03030','ko03420','ko03018','ko03040','ko05330','ko05332','ko04940','ko05320','ko05416','ko00591','ko00592','ko00514','ko00564','ko04672','ko04974','ko04260','ko04972'];
const keggCirclePct = [1.7,1.1,0.71,0.56,0.44,1.53,1.33,1.18,1.15,0.97,3.57,2.7,2.08,1.25,0.61,3.57,3.45,3.33,3.12,2.38,3.7,3.7,3.57,2.08,3.45,2.63,2.3,1.94];
const keggCircleTerms = [4,1,1,1,1,2,1,2,1,2,1,1,1,1,1,2,2,2,2,2,1,1,1,2,2,2,2,2];
const keggCircleCounts = [235,91,140,180,229,131,75,170,87,206,28,37,48,80,165,56,58,60,64,84,27,27,28,96,58,76,87,103];
const keggCirclePClass = [1,0,0,0,0,0,0,0,1,0,0,0,0,0,0,1,1,1,2,0,0,0,0,0,1,1,0,0];
const keggCircleLegend = [['Cellular Processes','#cf3a50'],['Environmental Information Processing','#cf3a50'],['Genetic Information Processing','#cf3a50'],['Human Diseases','#84608f'],['Metabolism','#d3a57f'],['Organismal Systems','#cf403c']];
const keggGroupStarts = [15,20,24];
drawCircos({
  group: 'panel-g', cx: 1235.4, r0: 94, pctOffset: 12,
  ids: keggCircleIds, pct: keggCirclePct, terms: keggCircleTerms, counts: keggCircleCounts, pClass: keggCirclePClass,
  barColor: i => i < keggGroupStarts[0] ? '#d14a5e' : (i < keggGroupStarts[1] ? '#8a6596' : (i < keggGroupStarts[2] ? '#d3a57f' : '#d1534f')),
  bandColor: i => i < keggGroupStarts[0] ? '#d14a5e' : (i < keggGroupStarts[1] ? '#8a6596' : (i < keggGroupStarts[2] ? '#d3a57f' : '#d1534f')),
  idColor: i => i < 5 ? '#f6e3e6' : '#1e1e1e',
  ringColor: v => v === 4 ? '#2a5fb3' : (v === 2 ? '#f0993c' : '#3b9ac6'),
  widthOf: v => 2 * Math.sqrt(v),
  barStart: 1.2, labelCentered: true, countColor: '#55559a', idFont: 11.5,
  legend: keggCircleLegend, legendX: 1142, legendW: 15, legendTop: 2065, legendStep: 17.4, legendFont: 9.9,
  pLegendX: 1570
});
</script>
</body>
</html>
